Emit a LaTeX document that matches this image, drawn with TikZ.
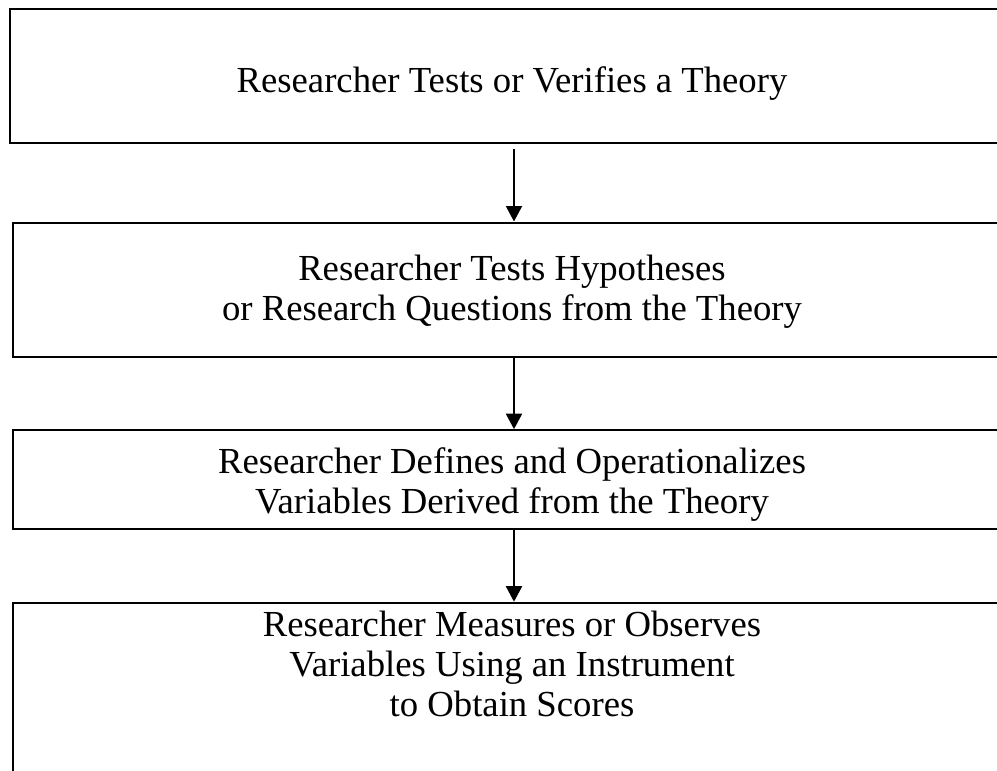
\documentclass[tikz,border=0pt]{standalone}
\usepackage{fontspec}
\setmainfont{Liberation Serif}
\usetikzlibrary{arrows.meta}
\begin{document}
\begin{tikzpicture}[x=1pt,y=-1pt,
  stagebox/.style={draw=black, line width=2pt, inner sep=0pt, minimum width=1001.6pt},
  stagetext/.style={align=center, anchor=base, inner sep=0pt,
    font=\fontsize{36.7}{40}\selectfont},
  flow/.style={draw=black, line width=2pt, -{Triangle[length=15.5pt,width=16pt]}}
]
\useasboundingbox (0,0) rectangle (997,771);

% stage boxes
\node[stagebox, minimum width=1008pt, minimum height=134.8pt] (b1) at (514,75.9) {};
\node[stagebox, minimum height=134.2pt] (b2) at (514,289.6) {};
\node[stagebox, minimum height=98.8pt] (b3) at (514,479.6) {};
\node[stagebox, minimum height=220pt] (b4) at (514,712.7) {};

% stage texts (anchored at the baseline of their last line)
\node[stagetext] (t1) at (512,92) {Researcher Tests or Verifies a Theory};
\node[stagetext] (t2) at (512,320) {Researcher Tests Hypotheses\\or Research Questions from the Theory};
\node[stagetext] (t3) at (512,513) {Researcher Defines and Operationalizes\\Variables Derived from the Theory};
\node[stagetext] (t4) at (512,716) {Researcher Measures or Observes\\Variables Using an Instrument\\to Obtain Scores};

% arrows between stages
\draw[flow, shorten <=4.5pt] (b1) -- (b2);
\draw[flow] (b2) -- (b3);
\draw[flow] (b3) -- (b4);
\end{tikzpicture}
\end{document}
